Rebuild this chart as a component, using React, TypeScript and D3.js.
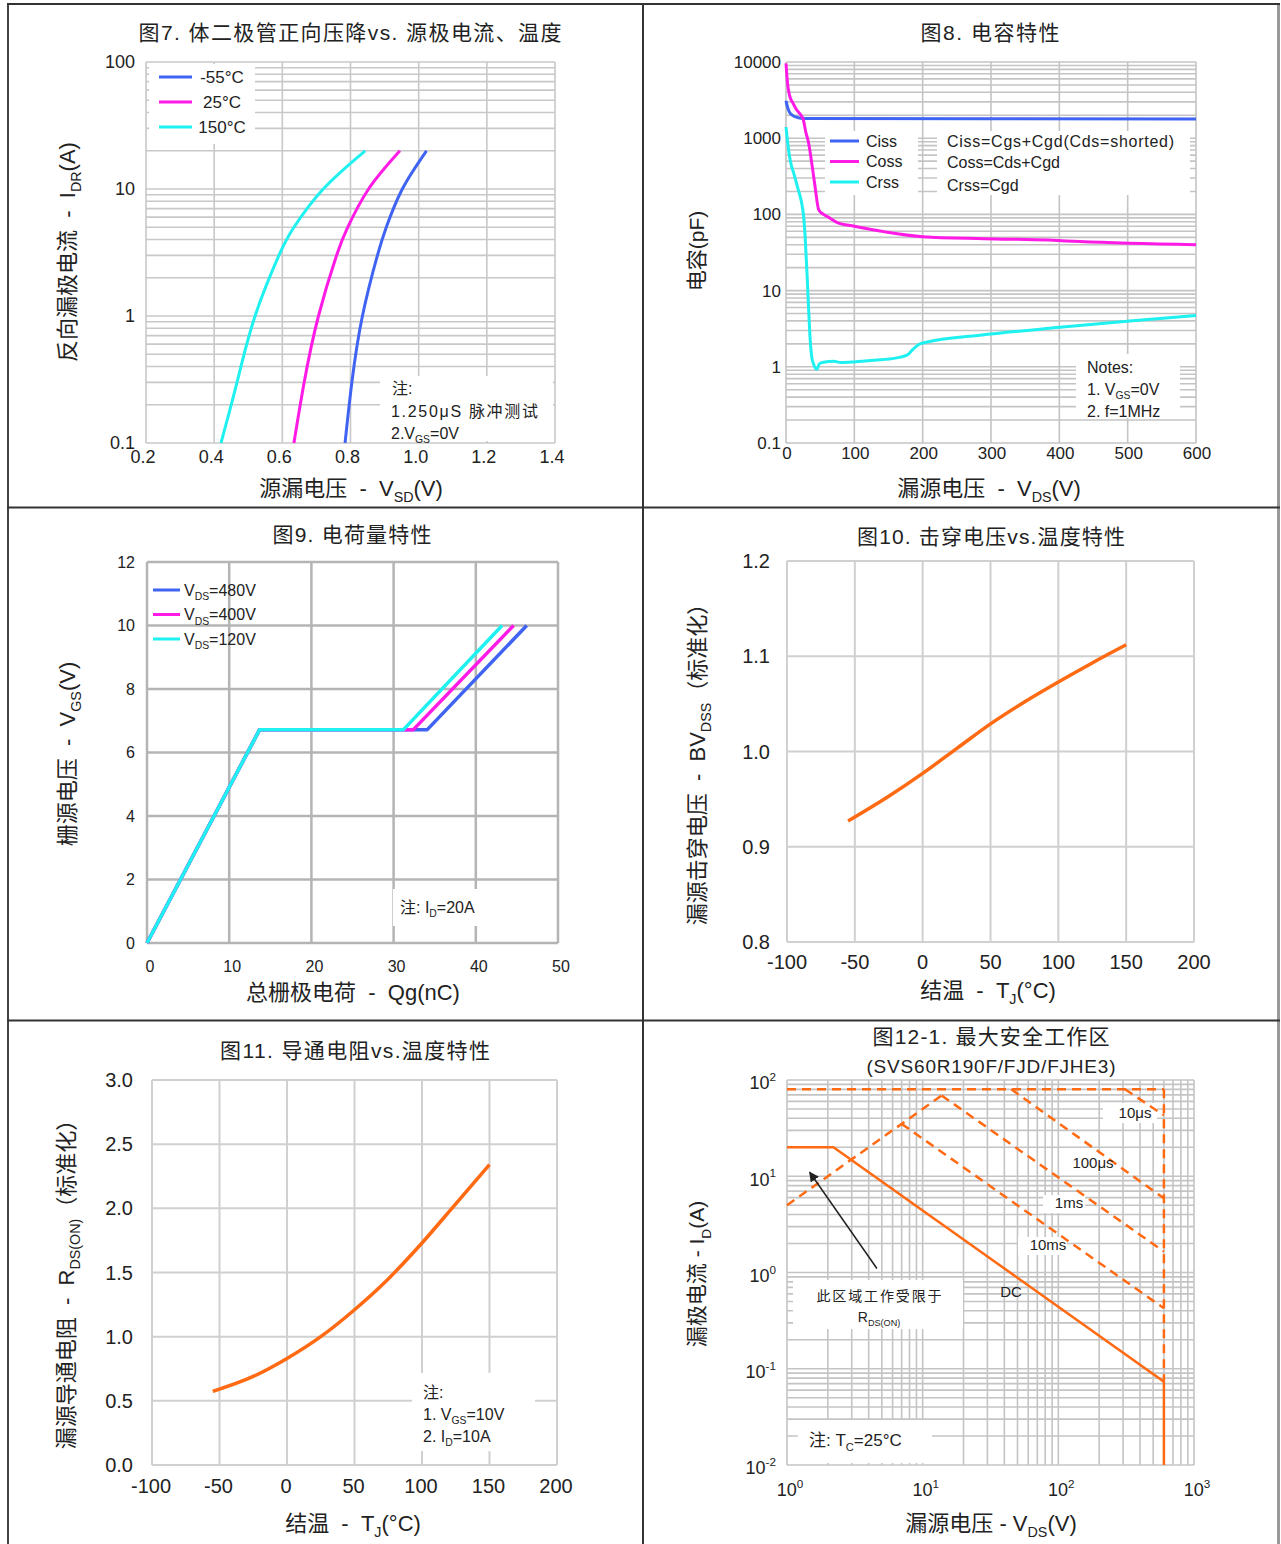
import React, { useEffect, useRef } from 'react'
import * as d3 from 'd3'

// ---------- 图7: 体二极管正向压降 ----------
const vfSeries = ['-55°C', '25°C', '150°C']
const vfCurrent = [0.1, 0.3, 1, 3, 5, 10, 20]
const vfVoltN55 = [0.784, 0.804, 0.835, 0.879, 0.905, 0.952, 1.023]
const vfVolt25 = [0.634, 0.664, 0.706, 0.759, 0.792, 0.853, 0.945]
const vfVolt150 = [0.42, 0.467, 0.52, 0.59, 0.634, 0.72, 0.843]
const vfXTicks = [0.2, 0.4, 0.6, 0.8, 1.0, 1.2, 1.4]
const vfYTicks = [0.1, 1, 10, 100]
const vfYTickLabels = ['0.1', '1', '10', '100']

// ---------- 图8: 电容特性 ----------
const capSeries = ['Ciss', 'Coss', 'Crss']
const capFormulas = ['Ciss=Cgs+Cgd(Cds=shorted)', 'Coss=Cds+Cgd', 'Crss=Cgd']
const cissData: [number, number][] = [[0, 3100], [2, 2600], [5, 2200], [10, 1980], [18, 1860], [30, 1810], [600, 1790]]
const cossData: [number, number][] = [
  [0, 9600], [2, 5500], [5, 3700], [10, 2900], [15, 2400], [22, 2000], [25, 1800], [29, 1200], [33, 870],
  [38, 450], [42, 250], [48, 114], [55, 100], [62, 92], [75, 78], [100, 70], [145, 59], [200, 51],
  [290, 48], [385, 46], [430, 44], [600, 40],
]
const crssData: [number, number][] = [
  [0, 1400], [3, 800], [6, 520], [12, 330], [18, 210], [23, 140], [26, 90], [28, 51], [31, 15], [33, 6],
  [35.5, 2.2], [37.6, 1.36], [41, 1.05], [45, 0.93], [49, 1.1], [55, 1.15], [70, 1.18], [80, 1.14],
  [100, 1.16], [130, 1.22], [160, 1.3], [177, 1.42], [186, 1.7], [195, 1.98], [205, 2.1], [284, 2.6],
  [401, 3.3], [503, 4.0], [600, 4.7],
]
const capXTicks = [0, 100, 200, 300, 400, 500, 600]
const capYTicks = [0.1, 1, 10, 100, 1000, 10000]
const capYTickLabels = ['0.1', '1', '10', '100', '1000', '10000']

// ---------- 图9: 电荷量特性 ----------
const qgSeries = ['480V', '400V', '120V']
const qg480: [number, number][] = [[0, 0], [13.7, 6.72], [34.1, 6.72], [46.2, 10]]
const qg400: [number, number][] = [[0, 0], [13.7, 6.72], [32.4, 6.72], [44.6, 10]]
const qg120: [number, number][] = [[0, 0], [13.7, 6.72], [31.2, 6.72], [43.2, 10]]
const qgXTicks = [0, 10, 20, 30, 40, 50]
const qgYTicks = [0, 2, 4, 6, 8, 10, 12]

// ---------- 图10: 击穿电压 vs 温度 ----------
const bvTemp = [-55, -25, 0, 25, 50, 75, 100, 125, 150]
const bvNorm = [0.927, 0.953, 0.977, 1.003, 1.029, 1.052, 1.073, 1.093, 1.112]
const tempTicks = [-100, -50, 0, 50, 100, 150, 200]
const bvYTicks = [0.8, 0.9, 1.0, 1.1, 1.2]

// ---------- 图11: 导通电阻 vs 温度 ----------
const rdsTemp = [-55, -25, 0, 25, 50, 75, 100, 125, 150]
const rdsNorm = [0.574, 0.69, 0.83, 1.0, 1.21, 1.45, 1.73, 2.035, 2.34]
const rdsYTicks = [0, 0.5, 1.0, 1.5, 2.0, 2.5, 3.0]

// ---------- 图12-1: 最大安全工作区 ----------
const soaDC: [number, number][] = [[1, 20], [2.2, 20], [600, 0.0735], [600, 0.01]]
const soaRds: [number, number][] = [[1, 5], [13.8, 69]]
const soaTop: [number, number][] = [[1, 80], [600, 80]]
const soaVmax: [number, number][] = [[600, 80], [600, 0.0735]]
const soa10us: [number, number][] = [[310, 80], [600, 43]]
const soa100us: [number, number][] = [[45, 80], [600, 5.9]]
const soa1ms: [number, number][] = [[13.8, 69], [600, 1.65]]
const soa10ms: [number, number][] = [[7, 35], [600, 0.425]]
const soaArrow: [number, number][] = [[4.6, 1.1], [1.47, 11]]
const soaXTicks = [1, 10, 100, 1000]
const soaYTicks = [0.01, 0.1, 1, 10, 100]

const FONT = '"Liberation Sans", Arial, "Noto Sans CJK SC", sans-serif'
const TXT = '#222'
const BLUE = '#3f63f2'
const MAGENTA = '#ff1ae6'
const CYAN = '#1ff0f0'
const ORANGE = '#ff6a13'

type Seg = [string, ('sub' | 'sup')?]
type Opt = { size?: number; anchor?: string; rotate?: boolean; len?: number; fill?: string }

function label(g: any, x: number, y: number, segs: Seg[] | string, o: Opt = {}) {
  const size = o.size ?? 16
  const t = g
    .append('text')
    .attr('font-family', FONT)
    .attr('font-size', size)
    .attr('fill', o.fill ?? TXT)
    .attr('text-anchor', o.anchor ?? 'start')
    .style('white-space', 'pre')
  if (o.rotate) {
    t.attr('transform', 'translate(' + x + ',' + y + ') rotate(-90)').attr('x', 0).attr('y', size * 0.35)
  } else {
    t.attr('x', x).attr('y', y + size * 0.35)
  }
  if (o.len) t.attr('textLength', o.len).attr('lengthAdjust', 'spacing')
  const list: Seg[] = typeof segs === 'string' ? [[segs]] : segs
  let shift = 0
  list.forEach(([s, kind]) => {
    const target = kind === 'sub' ? size * 0.3 : kind === 'sup' ? -size * 0.45 : 0
    const ts = t.append('tspan').text(s).attr('dy', target - shift)
    if (kind) ts.attr('font-size', size * 0.65)
    shift = target
  })
  return t
}

function grid(g: any, x: any, y: any, xs: number[], ys: number[], color: string, w: number) {
  const [y0, y1] = y.range()
  const [x0, x1] = x.range()
  g.selectAll(null)
    .data(xs)
    .enter()
    .append('line')
    .attr('x1', (d: number) => x(d))
    .attr('x2', (d: number) => x(d))
    .attr('y1', y0)
    .attr('y2', y1)
    .attr('stroke', color)
    .attr('stroke-width', w)
  g.selectAll(null)
    .data(ys)
    .enter()
    .append('line')
    .attr('x1', x0)
    .attr('x2', x1)
    .attr('y1', (d: number) => y(d))
    .attr('y2', (d: number) => y(d))
    .attr('stroke', color)
    .attr('stroke-width', w)
}

function whiteBox(g: any, x: number, y: number, w: number, h: number) {
  g.append('rect').attr('x', x).attr('y', y).attr('width', w).attr('height', h).attr('fill', '#fff')
}

function drawFrame(svg: any) {
  const g = svg.append('g')
  g.append('line').attr('x1', 8).attr('x2', 8).attr('y1', 4).attr('y2', 1544).attr('stroke', '#444').attr('stroke-width', 2)
  g.append('line').attr('x1', 643).attr('x2', 643).attr('y1', 4).attr('y2', 1544).attr('stroke', '#333').attr('stroke-width', 2)
  g.append('line').attr('x1', 1278.5).attr('x2', 1278.5).attr('y1', 4).attr('y2', 1544).attr('stroke', '#999').attr('stroke-width', 3)
  ;[4, 507.5, 1020.5].forEach((yy) =>
    g.append('line').attr('x1', 7).attr('x2', 1280).attr('y1', yy).attr('y2', yy).attr('stroke', '#333').attr('stroke-width', 2)
  )
}

function drawFig7(svg: any) {
  const g = svg.append('g')
  const x = d3.scaleLinear().domain([0.2, 1.4]).range([146, 555])
  const y = d3.scaleLog().domain([0.1, 100]).range([443, 62])
  grid(g, x, y, vfXTicks, y.ticks(), '#c8c8c8', 1.6)
  whiteBox(g, 149, 64, 106, 80)
  whiteBox(g, 380, 376, 173, 65)

  const colors = [BLUE, MAGENTA, CYAN]
  const line = d3
    .line<number>()
    .x((d) => x(d))
    .y((d, i) => y(vfCurrent[i]))
    .curve(d3.curveNatural)
  ;[vfVoltN55, vfVolt25, vfVolt150].forEach((s, k) =>
    g.append('path').attr('d', line(s)).attr('fill', 'none').attr('stroke', colors[k]).attr('stroke-width', 3)
  )

  vfSeries.forEach((name, k) => {
    const ly = 77 + k * 25
    g.append('line').attr('x1', 159).attr('x2', 192).attr('y1', ly).attr('y2', ly).attr('stroke', colors[k]).attr('stroke-width', 3)
    label(g, 222, ly, name, { size: 17, anchor: 'middle' })
  })

  label(g, 392, 388, '注:', { size: 16 })
  label(g, 391, 411, '1.250μS 脉冲测试', { size: 16, len: 147 })
  label(g, 391, 433, [['2.V'], ['GS', 'sub'], ['=0V']], { size: 16 })

  vfYTicks.forEach((v, i) => label(g, 135, y(v), vfYTickLabels[i], { size: 18, anchor: 'end' }))
  vfXTicks.forEach((v) => label(g, x(v) - 3, 457, v.toFixed(1), { size: 18, anchor: 'middle' }))

  label(g, 350, 33, '图7. 体二极管正向压降vs. 源极电流、温度', { size: 21, anchor: 'middle', len: 423 })
  label(g, 351, 488, [['源漏电压  -  V'], ['SD', 'sub'], ['(V)']], { size: 22, anchor: 'middle' })
  label(g, 67, 252, [['反向漏极电流  -  I'], ['DR', 'sub'], ['(A)']], { size: 22, anchor: 'middle', rotate: true })
}

function drawFig8(svg: any) {
  const g = svg.append('g')
  const x = d3.scaleLinear().domain([0, 600]).range([786, 1196])
  const y = d3.scaleLog().domain([0.1, 10000]).range([443, 62])
  grid(g, x, y, capXTicks, y.ticks(), '#c4c4c4', 1.6)
  whiteBox(g, 825, 131, 93, 64)
  whiteBox(g, 937, 131, 253, 64)
  whiteBox(g, 1076, 354, 104, 64)

  const colors = [BLUE, MAGENTA, CYAN]
  const line = d3
    .line<[number, number]>()
    .x((d) => x(d[0]))
    .y((d) => y(d[1]))
    .curve(d3.curveMonotoneX)
  ;[cissData, cossData, crssData].forEach((s, k) =>
    g.append('path').attr('d', line(s)).attr('fill', 'none').attr('stroke', colors[k]).attr('stroke-width', 3)
  )

  capSeries.forEach((name, k) => {
    const ly = 141 + k * 20.5
    g.append('line').attr('x1', 830).attr('x2', 859).attr('y1', ly).attr('y2', ly).attr('stroke', colors[k]).attr('stroke-width', 3)
    label(g, 866, ly, name, { size: 16 })
  })
  label(g, 947, 141, capFormulas[0], { size: 16, len: 227 })
  label(g, 947, 162.5, capFormulas[1], { size: 16 })
  label(g, 947, 185, capFormulas[2], { size: 16 })

  label(g, 1087, 367, 'Notes:', { size: 16 })
  label(g, 1087, 389, [['1. V'], ['GS', 'sub'], ['=0V']], { size: 16 })
  label(g, 1087, 411, '2. f=1MHz', { size: 16 })

  capYTicks.forEach((v, i) => label(g, 781, y(v), capYTickLabels[i], { size: 17, anchor: 'end' }))
  capXTicks.forEach((v) => label(g, x(v) + 1, 453, String(v), { size: 17, anchor: 'middle' }))

  label(g, 990, 33, '图8. 电容特性', { size: 21, anchor: 'middle', len: 139 })
  label(g, 989, 488, [['漏源电压  -  V'], ['DS', 'sub'], ['(V)']], { size: 22, anchor: 'middle' })
  label(g, 697, 251, '电容(pF)', { size: 21, anchor: 'middle', rotate: true })
}

function drawFig9(svg: any) {
  const g = svg.append('g')
  const x = d3.scaleLinear().domain([0, 50]).range([147, 558])
  const y = d3.scaleLinear().domain([0, 12]).range([943, 562])
  grid(g, x, y, qgXTicks, qgYTicks, '#b4b4b4', 2.5)
  whiteBox(g, 393, 889, 110, 37)

  const colors = [BLUE, MAGENTA, CYAN]
  const line = d3
    .line<[number, number]>()
    .x((d) => x(d[0]))
    .y((d) => y(d[1]))
  ;[qg480, qg400, qg120].forEach((s, k) =>
    g.append('path').attr('d', line(s)).attr('fill', 'none').attr('stroke', colors[k]).attr('stroke-width', 3.5).attr('stroke-linejoin', 'round')
  )

  qgSeries.forEach((v, k) => {
    const ly = 590 + k * 24.5
    g.append('line').attr('x1', 153).attr('x2', 180).attr('y1', ly).attr('y2', ly).attr('stroke', colors[k]).attr('stroke-width', 3)
    label(g, 184, ly, [['V'], ['DS', 'sub'], ['=' + v]], { size: 16 })
  })
  label(g, 400, 907, [['注: I'], ['D', 'sub'], ['=20A']], { size: 16 })

  qgYTicks.forEach((v) => label(g, 135, y(v), String(v), { size: 16, anchor: 'end' }))
  qgXTicks.forEach((v) => label(g, x(v) + 3, 966, String(v), { size: 16, anchor: 'middle' }))

  label(g, 352, 535, '图9. 电荷量特性', { size: 21, anchor: 'middle', len: 159 })
  label(g, 353, 992, '总栅极电荷  -  Qg(nC)', { size: 22, anchor: 'middle' })
  label(g, 67, 754, [['栅源电压  -  V'], ['GS', 'sub'], ['(V)']], { size: 22, anchor: 'middle', rotate: true })
}

function drawFig10(svg: any) {
  const g = svg.append('g')
  const x = d3.scaleLinear().domain([-100, 200]).range([787, 1194])
  const y = d3.scaleLinear().domain([0.8, 1.2]).range([942, 561])
  grid(g, x, y, tempTicks, bvYTicks, '#d0d0d0', 2)

  const line = d3
    .line<number>()
    .x((d, i) => x(bvTemp[i]))
    .y((d) => y(d))
    .curve(d3.curveMonotoneX)
  g.append('path').attr('d', line(bvNorm)).attr('fill', 'none').attr('stroke', ORANGE).attr('stroke-width', 3.5)

  bvYTicks.forEach((v) => label(g, 770, y(v), v.toFixed(1), { size: 20, anchor: 'end' }))
  tempTicks.forEach((v) => label(g, x(v), 962, String(v), { size: 20, anchor: 'middle' }))

  label(g, 991, 537, '图10. 击穿电压vs.温度特性', { size: 21, anchor: 'middle', len: 268 })
  label(g, 988, 990, [['结温  -  T'], ['J', 'sub'], ['(°C)']], { size: 22, anchor: 'middle' })
  label(g, 697, 759, [['漏源击穿电压  -  BV'], ['DSS', 'sub'], ['（标准化）']], { size: 22, anchor: 'middle', rotate: true })
}

function drawFig11(svg: any) {
  const g = svg.append('g')
  const x = d3.scaleLinear().domain([-100, 200]).range([152, 557])
  const y = d3.scaleLinear().domain([0, 3]).range([1465, 1080])
  grid(g, x, y, tempTicks, rdsYTicks, '#d0d0d0', 2)
  whiteBox(g, 412, 1373, 123, 78)

  const line = d3
    .line<number>()
    .x((d, i) => x(rdsTemp[i]))
    .y((d) => y(d))
    .curve(d3.curveMonotoneX)
  g.append('path').attr('d', line(rdsNorm)).attr('fill', 'none').attr('stroke', ORANGE).attr('stroke-width', 3.5)

  label(g, 423, 1392, '注:', { size: 16 })
  label(g, 423, 1414, [['1. V'], ['GS', 'sub'], ['=10V']], { size: 16 })
  label(g, 423, 1436, [['2. I'], ['D', 'sub'], ['=10A']], { size: 16 })

  rdsYTicks.forEach((v) => label(g, 133, y(v), v.toFixed(1), { size: 20, anchor: 'end' }))
  tempTicks.forEach((v) => label(g, x(v) - 1, 1486, String(v), { size: 20, anchor: 'middle' }))

  label(g, 355, 1051, '图11. 导通电阻vs.温度特性', { size: 21, anchor: 'middle', len: 270 })
  label(g, 353, 1523, [['结温  -  T'], ['J', 'sub'], ['(°C)']], { size: 22, anchor: 'middle' })
  label(g, 66, 1279, [['漏源导通电阻  -  R'], ['DS(ON)', 'sub'], ['（标准化）']], { size: 22, anchor: 'middle', rotate: true })
}

function drawFig12(svg: any) {
  const g = svg.append('g')
  const x = d3.scaleLog().domain([1, 1000]).range([787, 1194])
  const y = d3.scaleLog().domain([0.01, 100]).range([1465, 1080])
  grid(g, x, y, x.ticks(), y.ticks(), '#c4c4c4', 1.6)
  whiteBox(g, 793, 1280, 170, 49)
  whiteBox(g, 798, 1420, 134, 43)
  whiteBox(g, 1103, 1103, 54, 20)
  whiteBox(g, 1070, 1154, 47, 18)
  whiteBox(g, 1043, 1195, 42, 18)
  whiteBox(g, 1018, 1237, 49, 18)

  const line = d3
    .line<[number, number]>()
    .x((d) => x(d[0]))
    .y((d) => y(d[1]))
  ;[soaTop, soaVmax, soaRds, soa10us, soa100us, soa1ms, soa10ms].forEach((s) =>
    g.append('path').attr('d', line(s)).attr('fill', 'none').attr('stroke', ORANGE).attr('stroke-width', 2.5).attr('stroke-dasharray', '9,6')
  )
  g.append('path').attr('d', line(soaDC)).attr('fill', 'none').attr('stroke', ORANGE).attr('stroke-width', 2.5)

  // arrow pointing at the RDS(on) limited corner
  const defs = svg.append('defs')
  defs
    .append('marker')
    .attr('id', 'arrowHead')
    .attr('viewBox', '0 0 10 10')
    .attr('refX', 9)
    .attr('refY', 5)
    .attr('markerWidth', 10)
    .attr('markerHeight', 10)
    .attr('markerUnits', 'userSpaceOnUse')
    .attr('orient', 'auto')
    .append('path')
    .attr('d', 'M0,0 L10,5 L0,10 z')
    .attr('fill', '#222')
  g.append('line')
    .attr('x1', x(soaArrow[0][0]))
    .attr('y1', y(soaArrow[0][1]))
    .attr('x2', x(soaArrow[1][0]))
    .attr('y2', y(soaArrow[1][1]))
    .attr('stroke', '#222')
    .attr('stroke-width', 1.5)
    .attr('marker-end', 'url(#arrowHead)')

  label(g, 1135, 1113, '10μs', { size: 15, anchor: 'middle' })
  label(g, 1093, 1163, '100μs', { size: 15, anchor: 'middle' })
  label(g, 1069, 1203, '1ms', { size: 15, anchor: 'middle' })
  label(g, 1048, 1245, '10ms', { size: 15, anchor: 'middle' })
  label(g, 1011, 1292, 'DC', { size: 15, anchor: 'middle' })
  label(g, 879, 1296, '此区域工作受限于', { size: 14, anchor: 'middle', len: 125 })
  label(g, 879, 1317, [['R'], ['DS(ON)', 'sub']], { size: 14, anchor: 'middle' })
  label(g, 809, 1440, [['注: T'], ['C', 'sub'], ['=25°C']], { size: 17 })

  soaYTicks.forEach((v) => {
    const e = Math.round(Math.log10(v))
    label(g, 776, y(v) + 3, [['10'], [String(e), 'sup']], { size: 18, anchor: 'end' })
  })
  soaXTicks.forEach((v) => {
    const e = Math.round(Math.log10(v))
    label(g, x(v) + 3, 1490, [['10'], [String(e), 'sup']], { size: 18, anchor: 'middle' })
  })

  label(g, 991, 1037, '图12-1. 最大安全工作区', { size: 21, anchor: 'middle', len: 237 })
  label(g, 991, 1066, '(SVS60R190F/FJD/FJHE3)', { size: 19, anchor: 'middle', len: 249 })
  label(g, 991, 1523, [['漏源电压 - V'], ['DS', 'sub'], ['(V)']], { size: 22, anchor: 'middle' })
  label(g, 697, 1274, [['漏极电流 - I'], ['D', 'sub'], ['(A)']], { size: 21, anchor: 'middle', rotate: true })
}

export default function App() {
  const ref = useRef<SVGSVGElement>(null)

  useEffect(() => {
    const svg = d3.select(ref.current)
    svg.selectAll('*').remove()
    svg.append('rect').attr('width', 1281).attr('height', 1544).attr('fill', '#fff')
    drawFrame(svg)
    drawFig7(svg)
    drawFig8(svg)
    drawFig9(svg)
    drawFig10(svg)
    drawFig11(svg)
    drawFig12(svg)
  }, [])

  return (
    <svg
      ref={ref}
      width={1281}
      height={1544}
      style={{ position: 'absolute', left: 0, top: 0, display: 'block' }}
    />
  )
}
